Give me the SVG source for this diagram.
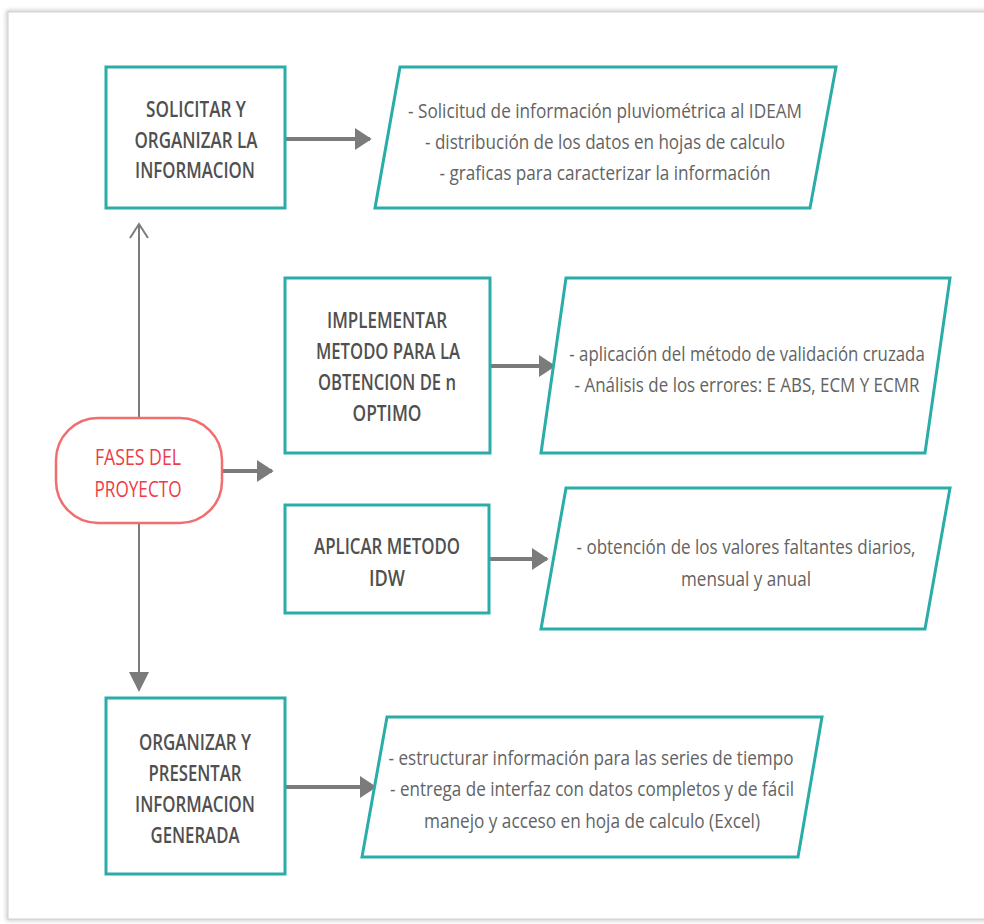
<svg xmlns="http://www.w3.org/2000/svg" width="984" height="924" viewBox="0 0 984 924">
<defs>
<filter id="sh" x="-5%" y="-5%" width="110%" height="110%"><feGaussianBlur stdDeviation="2"/></filter>
<marker id="ah" viewBox="0 0 10 10" refX="9" refY="5" markerWidth="4.2" markerHeight="5.5" markerUnits="strokeWidth" orient="auto" preserveAspectRatio="none"><path d="M0,0 L10,5 L0,10 Z" fill="#7b7b7b"/></marker>
<marker id="ao" viewBox="0 0 20 20" refX="10" refY="2" markerWidth="20" markerHeight="20" markerUnits="userSpaceOnUse" orient="0"><path d="M1,16 L10,2 L19,16" fill="none" stroke="#7b7b7b" stroke-width="2"/></marker>
<style>
.box{fill:#fff;stroke:#2aada8;stroke-width:3}
.pill{fill:#fff;stroke:#f26d6d;stroke-width:2.5}
.lbl{font-family:"Open Sans","Liberation Sans",sans-serif;font-size:21px;font-weight:600;fill:#505050;text-anchor:middle}
.txt{font-family:"Open Sans","Liberation Sans",sans-serif;font-size:20.5px;fill:#636363;text-anchor:middle}
.red{font-family:"Open Sans","Liberation Sans",sans-serif;font-size:22px;fill:#ee3b47;text-anchor:middle}
.c{fill:none;stroke:#7b7b7b}
.thick{stroke-width:4}
.thin{stroke-width:2}
</style>
</defs>
<rect x="0" y="0" width="984" height="924" fill="#fff"/>
<rect x="8" y="12" width="990" height="907" fill="none" stroke="#bdbdbd" stroke-width="3" filter="url(#sh)"/>
<rect x="8" y="12" width="990" height="907" fill="#fff" stroke="#d0d0d0" stroke-width="1"/>

<g id="connectors">
<line class="c thick" x1="285" y1="139" x2="370" y2="139" marker-end="url(#ah)"/>
<line class="c thick" x1="490" y1="366" x2="554" y2="366" marker-end="url(#ah)"/>
<line class="c thick" x1="489" y1="559" x2="547" y2="559" marker-end="url(#ah)"/>
<line class="c thick" x1="285" y1="787" x2="375" y2="787" marker-end="url(#ah)"/>
<line class="c thick" x1="222" y1="471" x2="272" y2="471" marker-end="url(#ah)"/>
<line class="c thin" x1="139" y1="418" x2="139" y2="224" marker-end="url(#ao)"/>
<line class="c thin" x1="139" y1="523" x2="139" y2="672"/>
<path d="M129,672 L149,672 L139,692 Z" fill="#7b7b7b"/>
</g>

<g id="n-fases">
<rect class="pill" x="56" y="418" width="166" height="105" rx="42" ry="42"/>
<text class="red" x="138" y="465" textLength="86" lengthAdjust="spacingAndGlyphs">FASES DEL</text>
<text class="red" x="138" y="497" textLength="87" lengthAdjust="spacingAndGlyphs">PROYECTO</text>
</g>

<g id="n-solicitar">
<rect class="box" x="106" y="67" width="179" height="141"/>
<text class="lbl" x="196" y="117" textLength="100" lengthAdjust="spacingAndGlyphs">SOLICITAR Y</text>
<text class="lbl" x="196" y="148" textLength="123" lengthAdjust="spacingAndGlyphs">ORGANIZAR LA</text>
<text class="lbl" x="195" y="178" textLength="120" lengthAdjust="spacingAndGlyphs">INFORMACION</text>
</g>
<g id="n-solicitar-det">
<polygon class="box" points="400,67 836,67 810,208 375,208"/>
<text class="txt" x="605" y="118" textLength="394" lengthAdjust="spacingAndGlyphs">- Solicitud de información pluviométrica al IDEAM</text>
<text class="txt" x="605" y="149" textLength="360" lengthAdjust="spacingAndGlyphs">- distribución de los datos en hojas de calculo</text>
<text class="txt" x="605" y="180" textLength="331" lengthAdjust="spacingAndGlyphs">- graficas para caracterizar la información</text>
</g>

<g id="n-implementar">
<rect class="box" x="285" y="278" width="205" height="175"/>
<text class="lbl" x="387" y="328" textLength="120" lengthAdjust="spacingAndGlyphs">IMPLEMENTAR</text>
<text class="lbl" x="388" y="359" textLength="144" lengthAdjust="spacingAndGlyphs">METODO PARA LA</text>
<text class="lbl" x="387" y="390" textLength="138" lengthAdjust="spacingAndGlyphs">OBTENCION DE n</text>
<text class="lbl" x="387" y="421" textLength="69" lengthAdjust="spacingAndGlyphs">OPTIMO</text>
</g>
<g id="n-implementar-det">
<polygon class="box" points="566,278 950,278 925,453 541,453"/>
<text class="txt" transform="translate(747,361) scale(0.82,1)" x="0" y="0">- aplicación del método de validación cruzada</text>
<text class="txt" transform="translate(747,392) scale(0.827,1)" x="0" y="0">- Análisis de los errores: E ABS, ECM Y ECMR</text>
</g>

<g id="n-aplicar">
<rect class="box" x="285" y="505" width="204" height="108"/>
<text class="lbl" x="387" y="554" textLength="146" lengthAdjust="spacingAndGlyphs">APLICAR METODO</text>
<text class="lbl" x="387" y="586" textLength="36" lengthAdjust="spacingAndGlyphs">IDW</text>
</g>
<g id="n-aplicar-det">
<polygon class="box" points="566,488 950,488 925,629 541,629"/>
<text class="txt" x="746" y="554" textLength="339" lengthAdjust="spacingAndGlyphs">- obtención de los valores faltantes diarios,</text>
<text class="txt" x="746" y="586" textLength="130" lengthAdjust="spacingAndGlyphs">mensual y anual</text>
</g>

<g id="n-organizar">
<rect class="box" x="106" y="698" width="179" height="176"/>
<text class="lbl" x="195" y="750" textLength="112" lengthAdjust="spacingAndGlyphs">ORGANIZAR Y</text>
<text class="lbl" x="195" y="781" textLength="93" lengthAdjust="spacingAndGlyphs">PRESENTAR</text>
<text class="lbl" x="195" y="812" textLength="120" lengthAdjust="spacingAndGlyphs">INFORMACION</text>
<text class="lbl" x="195" y="843" textLength="89" lengthAdjust="spacingAndGlyphs">GENERADA</text>
</g>
<g id="n-organizar-det">
<polygon class="box" points="387,717 822,717 798,857 362,857"/>
<text class="txt" x="591" y="765" textLength="405" lengthAdjust="spacingAndGlyphs">- estructurar información para las series de tiempo</text>
<text class="txt" x="592" y="796" textLength="404" lengthAdjust="spacingAndGlyphs">- entrega de interfaz con datos completos y de fácil</text>
<text class="txt" x="592" y="828" textLength="336" lengthAdjust="spacingAndGlyphs">manejo y acceso en hoja de calculo (Excel)</text>
</g>
</svg>
